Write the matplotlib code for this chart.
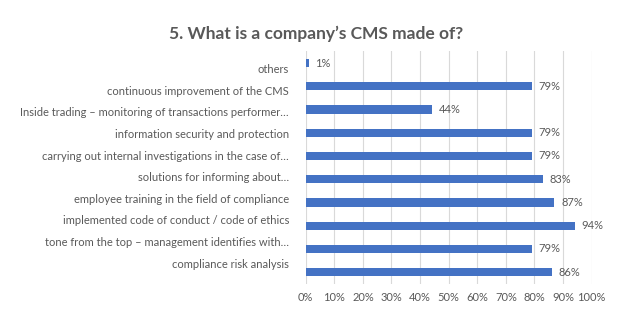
import numpy as np
import matplotlib
matplotlib.use('Agg')
import matplotlib.pyplot as plt
import matplotlib.ticker as mticker

# ── Data (top to bottom as shown) ──────────────────────────
categories = [
    'others',
    'continuous improvement of the CMS',
    'Inside trading – monitoring of transactions performer…',
    'information security and protection',
    'carrying out internal investigations in the case of…',
    'solutions for informing about…',
    'employee training in the field of compliance',
    'implemented code of conduct / code of ethics',
    'tone from the top – management identifies with…',
    'compliance risk analysis',
]
values = [1, 79, 44, 79, 79, 83, 87, 94, 79, 86]
xticks = [0, 10, 20, 30, 40, 50, 60, 70, 80, 90, 100]

# ── Style ──────────────────────────────────────────────────
BAR = '#4472C4'
TXT = '#595959'
GRID = '#D9D9D9'

plt.rcParams.update({
    'font.family': ['Lato', 'DejaVu Sans'],
    'text.color': TXT,
    'xtick.color': TXT,
    'ytick.color': TXT,
})

fig = plt.figure(figsize=(6.23, 3.28), dpi=100)
ax = fig.add_axes([0.4907, 0.135, 0.459, 0.708])

y = np.arange(len(categories))
ax.barh(y, values, height=0.35, color=BAR, zorder=3)

for yi, v in zip(y, values):
    ax.annotate(f'{v}%', (v, yi), xytext=(5, 0), textcoords='offset points',
                va='center', ha='left', fontsize=8, color=TXT)

ax.set_xlim(0, 100)
ax.set_ylim(len(categories) - 0.5, -0.5)
ax.set_xticks(xticks)
ax.xaxis.set_major_formatter(mticker.FuncFormatter(lambda v, p: f'{v:.0f}%'))
ax.tick_params(axis='x', labelsize=8, length=0, pad=6)

# category labels sit slightly compressed relative to the bars
mid = (len(categories) - 1) / 2
label_pos = mid + (y - mid) * 0.93 - 0.07
ax.set_yticks(label_pos)
ax.set_yticklabels(categories, fontsize=8)
ax.tick_params(axis='y', length=0, pad=12)

ax.grid(axis='x', color=GRID, linewidth=0.8, zorder=0)
for s in ax.spines.values():
    s.set_visible(False)

fig.text(0.507, 0.898, '5. What is a company’s CMS made of?', ha='center', va='center',
         fontsize=12.5, fontweight='bold', color=TXT)

fig.savefig('out.png', dpi=100, facecolor='white')
